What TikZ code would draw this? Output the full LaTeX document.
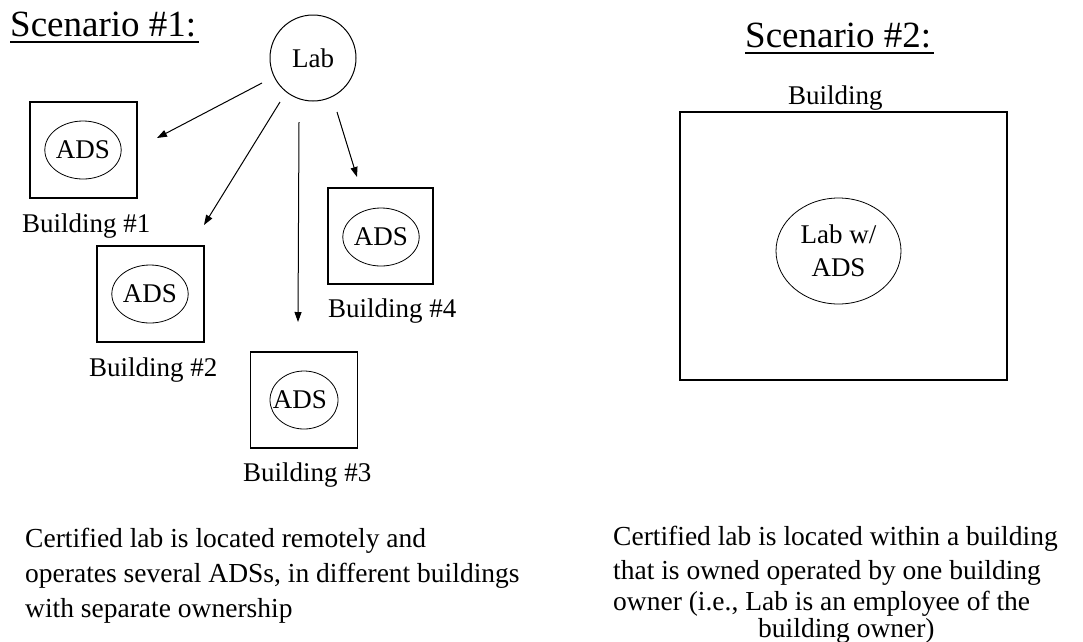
\documentclass[tikz,border=0pt]{standalone}
\usepackage{fontspec}
\setmainfont{Liberation Serif}
\usetikzlibrary{arrows.meta,shapes.geometric,calc}
\begin{document}
\begin{tikzpicture}[x=1pt,y=-1pt,
  title/.style={anchor=base west,inner sep=0pt,font=\fontsize{37}{40}\selectfont},
  lbl/.style={anchor=base west,inner sep=0pt,font=\fontsize{27}{30}\selectfont},
  body/.style={anchor=base west,inner sep=0pt,font=\fontsize{27.5}{30}\selectfont},
  bldg/.style={draw,line width=1.3pt,minimum width=107pt,minimum height=96pt,inner sep=0pt},
  ads/.style={draw,ellipse,line width=0.8pt,minimum width=68pt,minimum height=58pt,inner sep=0pt,font=\fontsize{27}{30}\selectfont},
  arr/.style={line width=1pt,-{Triangle[length=10pt,width=7pt]}}]
\useasboundingbox[fill=white] (0,0) rectangle (1083,641);

% Scenario 1
\node[title] (t1) at (10,36) {Scenario \#1:};
\draw[line width=1.4pt] ($(t1.base west)+(0,6)$) -- ($(t1.base east)+(3,6)$);

\node[draw,circle,line width=1pt,minimum size=86pt,inner sep=0pt,font=\fontsize{27}{30}\selectfont] (lab) at (313,58) {Lab};

\node[bldg] (b1) at (83.5,150) {};
\node[ads] (e1) at (83,150) {ADS};
\node[lbl] (l1) at (22,232) {Building \#1};

\node[bldg] (b2) at (150.5,294) {};
\node[ads] (e2) at (150,294) {ADS};
\node[lbl] (l2) at (89,376) {Building \#2};

\node[bldg] (b3) at (304,400) {};
\node[ads] (e3) at (304,400) {};
\node[font=\fontsize{27}{30}\selectfont,inner sep=0pt] (e3t) at (300,400) {ADS};
\node[lbl] (l3) at (243,481) {Building \#3};

\node[bldg,minimum width=105pt] (b4) at (380.5,236) {};
\node[ads] (e4) at (381,237) {ADS};
\node[lbl] (l4) at (328,317) {Building \#4};

\coordinate (a1s) at (262,83);  \coordinate (a1e) at (157,138);
\coordinate (a2s) at (280,102); \coordinate (a2e) at (204,225);
\coordinate (a3s) at (299,122); \coordinate (a3e) at (298,322);
\coordinate (a4s) at (337,112); \coordinate (a4e) at (357,177);
\draw[arr] (a1s) -- (a1e);
\draw[arr] (a2s) -- (a2e);
\draw[arr] (a3s) -- (a3e);
\draw[arr] (a4s) -- (a4e);

% Scenario 2
\node[title] (t2) at (745,47) {Scenario \#2:};
\draw[line width=1.4pt] ($(t2.base west)+(0,6)$) -- ($(t2.base east)+(3,6)$);
\node[lbl] (bl) at (788,104) {Building};
\node[draw,line width=1.3pt,minimum width=327pt,minimum height=268pt,inner sep=0pt] (big) at (843.5,246) {};
\node[draw,ellipse,line width=0.8pt,minimum width=125pt,minimum height=106pt,inner sep=0pt,align=center,font=\fontsize{27}{33}\selectfont] (labads) at (838.5,251) {Lab w/\\ADS};

% Captions
\node[body] (c1) at (25,547) {Certified lab is located remotely and};
\node[body] (c2) at (25,582) {operates several ADSs, in different buildings};
\node[body] (c3) at (25,617) {with separate ownership};

\node[body] (d1) at (613,545) {Certified lab is located within a building};
\node[body] (d2) at (613,579) {that is owned operated by one building};
\node[body] (d3) at (613,610) {owner (i.e., Lab is an employee of the};
\node[body] (d4) at (758,637) {building owner)};
\end{tikzpicture}
\end{document}
